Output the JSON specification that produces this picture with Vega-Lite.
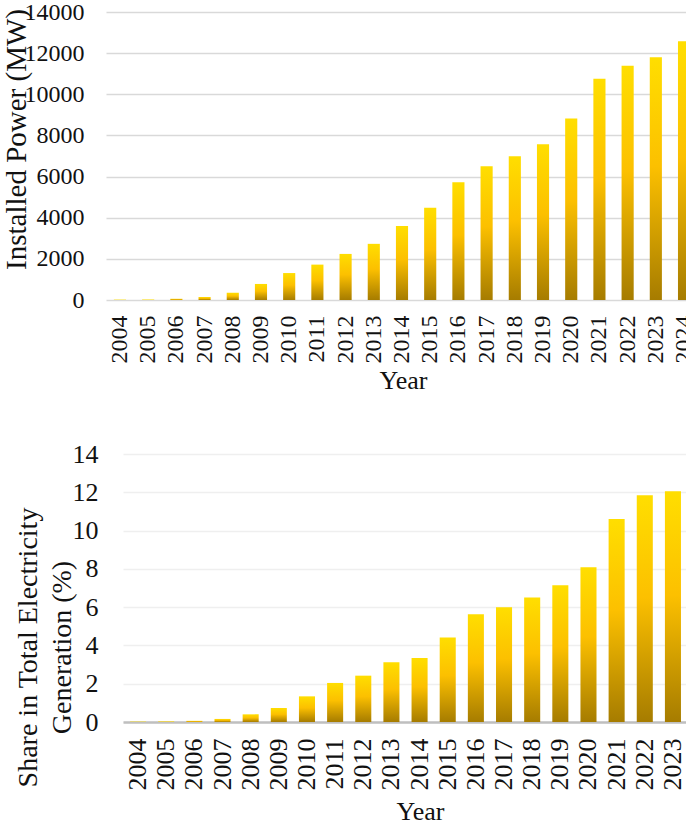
{
  "$schema": "https://vega.github.io/schema/vega-lite/v6.json",
  "padding": {"left": 0, "top": 0, "right": 0, "bottom": 0},
  "spacing": 48,
  "datasets": {
    "power": [
      {"Year": "2004", "Installed": 19},
      {"Year": "2005", "Installed": 20},
      {"Year": "2006", "Installed": 59},
      {"Year": "2007", "Installed": 146},
      {"Year": "2008", "Installed": 350},
      {"Year": "2009", "Installed": 780},
      {"Year": "2010", "Installed": 1310},
      {"Year": "2011", "Installed": 1720},
      {"Year": "2012", "Installed": 2240},
      {"Year": "2013", "Installed": 2730},
      {"Year": "2014", "Installed": 3600},
      {"Year": "2015", "Installed": 4480},
      {"Year": "2016", "Installed": 5730},
      {"Year": "2017", "Installed": 6500},
      {"Year": "2018", "Installed": 6990},
      {"Year": "2019", "Installed": 7570},
      {"Year": "2020", "Installed": 8820},
      {"Year": "2021", "Installed": 10750},
      {"Year": "2022", "Installed": 11390},
      {"Year": "2023", "Installed": 11800},
      {"Year": "2024", "Installed": 12580}
    ],
    "share": [
      {"Year": "2004", "Share": 0.02},
      {"Year": "2005", "Share": 0.03},
      {"Year": "2006", "Share": 0.06},
      {"Year": "2007", "Share": 0.16},
      {"Year": "2008", "Share": 0.4},
      {"Year": "2009", "Share": 0.73},
      {"Year": "2010", "Share": 1.34},
      {"Year": "2011", "Share": 2.04},
      {"Year": "2012", "Share": 2.42},
      {"Year": "2013", "Share": 3.12},
      {"Year": "2014", "Share": 3.34},
      {"Year": "2015", "Share": 4.42},
      {"Year": "2016", "Share": 5.63},
      {"Year": "2017", "Share": 5.99},
      {"Year": "2018", "Share": 6.51},
      {"Year": "2019", "Share": 7.14},
      {"Year": "2020", "Share": 8.08},
      {"Year": "2021", "Share": 10.6},
      {"Year": "2022", "Share": 11.84},
      {"Year": "2023", "Share": 12.05}
    ]
  },
  "vconcat": [
    {
      "spacing": 0,
      "hconcat": [
        {
          "width": 1,
          "height": 288,
          "data": {"values": []},
          "mark": "point"
        },
        {
          "width": 592,
          "height": 288,
          "data": {"name": "power"},
          "mark": {
            "type": "bar",
            "color": {
              "gradient": "linear",
              "x1": 0, "y1": 0, "x2": 0, "y2": 1,
              "stops": [
                {"offset": 0, "color": "#ffde00"},
                {"offset": 0.45, "color": "#fcc000"},
                {"offset": 1, "color": "#a67c00"}
              ]
            }
          },
          "encoding": {
            "x": {
              "field": "Year",
              "type": "ordinal",
              "scale": {"paddingInner": 0.57, "paddingOuter": 0.28},
              "axis": {
                "title": "Year",
                "labelAngle": -90,
                "labelFontSize": 24,
                "labelPadding": 15,
                "titleFontSize": 26,
                "titlePadding": 4,
                "titleX": 297,
                "domain": false,
                "ticks": false
              }
            },
            "y": {
              "field": "Installed",
              "type": "quantitative",
              "scale": {"domain": [0, 14000]},
              "axis": {
                "title": "Installed Power (MW)",
                "values": [0, 2000, 4000, 6000, 8000, 10000, 12000, 14000],
                "format": "d",
                "labelFontSize": 24,
                "labelPadding": 22,
                "titleFontSize": 29,
                "titlePadding": -7,
                "titleY": 127,
                "domain": false,
                "ticks": false,
                "gridColor": "#d9d9d9",
                "gridWidth": 1.6
              }
            }
          }
        }
      ]
    },
    {
      "spacing": 0,
      "hconcat": [
        {
          "width": 14,
          "height": 268,
          "data": {"values": []},
          "mark": "point"
        },
        {
          "width": 565,
          "height": 268,
          "data": {"name": "share"},
          "mark": {
            "type": "bar",
            "color": {
              "gradient": "linear",
              "x1": 0, "y1": 0, "x2": 0, "y2": 1,
              "stops": [
                {"offset": 0, "color": "#ffde00"},
                {"offset": 0.45, "color": "#fcc000"},
                {"offset": 1, "color": "#a67c00"}
              ]
            }
          },
          "encoding": {
            "x": {
              "field": "Year",
              "type": "ordinal",
              "scale": {"paddingInner": 0.43, "paddingOuter": 0.25},
              "axis": {
                "title": "Year",
                "labelAngle": -90,
                "labelFontSize": 26,
                "labelPadding": 16,
                "titleFontSize": 26,
                "titlePadding": 8,
                "titleX": 297,
                "domain": true,
                "domainColor": "#bfbfbf",
                "domainWidth": 2.5,
                "ticks": false
              }
            },
            "y": {
              "field": "Share",
              "type": "quantitative",
              "scale": {"domain": [0, 14]},
              "axis": {
                "title": ["Share in Total Electricity", "Generation (%)"],
                "values": [0, 2, 4, 6, 8, 10, 12, 14],
                "labelFontSize": 26,
                "labelPadding": 25,
                "titleFontSize": 28,
                "titleLineHeight": 34,
                "titlePadding": -4,
                "titleY": 193,
                "domain": false,
                "ticks": false,
                "gridColor": "#efefef",
                "gridWidth": 1.6
              }
            }
          }
        }
      ]
    }
  ],
  "config": {
    "font": "Liberation Serif",
    "view": {"stroke": null},
    "axis": {
      "labelFont": "Liberation Serif",
      "titleFont": "Liberation Serif",
      "labelColor": "#111111",
      "titleColor": "#111111",
      "titleFontWeight": "normal",
      "grid": true
    },
    "axisX": {"grid": false}
  }
}
